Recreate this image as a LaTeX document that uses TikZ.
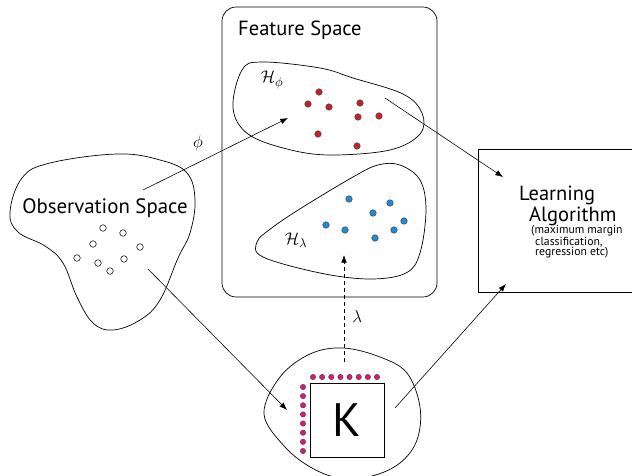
\documentclass[tikz,border=0pt]{standalone}
\usepackage{fontspec}
\setmainfont{PT Sans}
\usetikzlibrary{arrows.meta,positioning}
\definecolor{ptred}{HTML}{C8202A}
\definecolor{ptblue}{HTML}{1A8FD6}
\definecolor{ptpink}{HTML}{E0147F}
\tikzset{
  blob/.style={draw,line width=0.6pt},
  frame/.style={draw,line width=0.6pt},
  map/.style={-{Latex[length=2.3mm,width=1.7mm]},line width=0.5pt},
  spacelabel/.style={inner sep=0pt,anchor=west},
  mathlabel/.style={font=\fontsize{15}{17}\selectfont,inner sep=1pt},
  featpt/.style={circle,draw=black!75,line width=0.4pt,fill=#1,
    minimum size=5.6pt,inner sep=0pt},
  obspt/.style={circle,draw,line width=0.45pt,fill=white,
    minimum size=5.6pt,inner sep=0pt},
  kernpt/.style={circle,draw=black!75,line width=0.35pt,fill=ptpink,
    minimum size=4.6pt,inner sep=0pt}
}

\begin{document}
\begin{tikzpicture}[x=0.03cm,y=-0.03cm]
  \useasboundingbox (0,0) rectangle (632,476);
  % observation space
  \draw[blob] plot[smooth cycle,tension=0.65] coordinates {
    (10,212) (22,178) (50,163) (117,154) (160,160) (187,173) (195,200)
    (190,233) (178,258) (160,300) (140,320) (113,330) (93,323) (77,297)
    (63,263) (45,246) (18,232)};
  \node[font=\fontsize{17.8}{19}\selectfont] (obs) at (105,208) {Observation Space};
  \foreach \x/\y [count=\i] in {103/228,123/233,93/244,140/247,77/258,98/263,124/259,110/271}
    \node[obspt] (o\i) at (\x,\y) {};
  % feature space
  \draw[frame,rounded corners=12] (222,7) rectangle (437,297);
  \node[spacelabel,font=\fontsize{17.5}{19}\selectfont] (feat) at (238,30) {Feature Space};
  \draw[blob] plot[smooth cycle,tension=0.6] coordinates {
    (233,108) (242,70) (262,62) (320,68) (353,78) (403,94) (422,113)
    (420,134) (390,150) (330,155) (287,149) (248,134)};
  \node[mathlabel] (hphi) at (272,80) {$\mathcal{H}_\phi$};
  \foreach \x/\y [count=\i] in {319/92,308/104,329/107,360/103,358/117,379/116,318/134,357/146}
    \node[featpt=ptred] (r\i) at (\x,\y) {};
  \draw[blob] plot[smooth cycle,tension=0.6] coordinates {
    (400,165) (420,180) (426,210) (420,253) (406,273) (370,279) (320,273)
    (263,257) (257,242) (273,227) (303,207) (353,177) (378,165)};
  \node[mathlabel] (hlam) at (296,240) {$\mathcal{H}_\lambda$};
  \foreach \x/\y [count=\i] in {349/199,390/203,373/213,404/221,326/225,345/230,394/230,375/238}
    \node[featpt=ptblue] (b\i) at (\x,\y) {};
  % kernel matrix
  \draw[blob] plot[smooth cycle,tension=0.6] coordinates {
    (264,414) (280,377) (310,354) (343,348) (380,357) (407,373) (420,407)
    (417,440) (400,463) (372,476) (340,478) (312,468) (285,447)};
  \node[draw,line width=0.5pt,minimum size=2.22cm,inner sep=0pt,
    font=\fontsize{40}{40}\selectfont] (K) at (347,420) {K};
  \foreach \i in {0,...,7}{
    \node[kernpt] (kt\i) at (313+\i*9.14,377) {};
    \node[kernpt] (kl\i) at (303,387+\i*9.14) {};
  }
  % learning algorithm
  \draw[frame] (632,149) -- (478,149) -- (478,292) -- (632,292);
  \node[spacelabel,font=\fontsize{17.5}{19}\selectfont] (learn) at (519,195) {Learning};
  \node[spacelabel,font=\fontsize{17.5}{19}\selectfont] (algo) at (529,216) {Algorithm};
  \node[spacelabel,font=\fontsize{10}{11}\selectfont] (ex1) at (531,231) {(maximum margin};
  \node[spacelabel,font=\fontsize{10}{11}\selectfont] (ex2) at (535,242) {classification,};
  \node[spacelabel,font=\fontsize{10}{11}\selectfont] (ex3) at (535,253) {regression etc)};
  % mappings
  \coordinate (obsA) at (143,190);
  \coordinate (phiA) at (288,118);
  \coordinate (obsB) at (148,269);
  \coordinate (kernA) at (287,410);
  \coordinate (phiB) at (385,98);
  \coordinate (learnA) at (503,177);
  \coordinate (kernB) at (395,408);
  \coordinate (learnB) at (506,284);
  \coordinate (kernC) at (344,362);
  \coordinate (lamA) at (344,255);
  \draw[map] (obsA) -- (phiA) node[mathlabel,pos=0.38,above=9pt] (phi) {$\phi$};
  \draw[map] (obsB) -- (kernA);
  \draw[map] (phiB) -- (learnA);
  \draw[map] (kernB) -- (learnB);
  \draw[map,dashed] (kernC) -- (lamA) node[mathlabel,pos=0.42,right=6pt] (lam) {$\lambda$};
\end{tikzpicture}
\end{document}
